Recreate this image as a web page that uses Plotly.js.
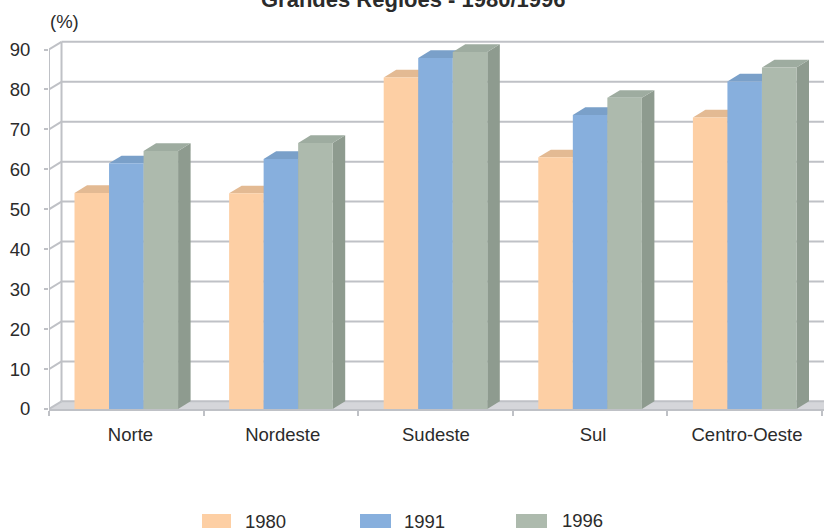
<!DOCTYPE html>
<html><head><meta charset="utf-8">
<script src="https://cdn.plot.ly/plotly-3.0.1.min.js"></script>
<style>html,body{margin:0;padding:0;background:#fff}#c{width:824px;height:528px}</style>
</head><body><div id="c"></div>
<script>
const categories = ["Norte","Nordeste","Sudeste","Sul","Centro-Oeste"];
const years = ["1980","1991","1996"];
const v1980 = [54.1,54.0,83.0,63.0,73.0];
const v1991 = [61.5,62.6,87.9,73.6,82.0];
const v1996 = [64.6,66.6,89.4,77.9,85.5];
const yTicks = [0,10,20,30,40,50,60,70,80,90];
const frontColors = ["#FDCFA4","#87AFDD","#ADBAAD"];
const topColors = ["#E3BA93","#7AA0C9","#9EACA0"];
const sideColors = ["#C9A584","#6C8CB0","#8E9B8F"];
const gridColor = "#BFC1C6", floorColor = "#D5D6DA", textColor = "#2B2B2B";
const font = "Liberation Sans, Arial, sans-serif";

const series = [v1980,v1991,v1996];
const xMin=-0.5, xMax=4.513, yMax=92.38;
const dx=0.081, dy=1.92, barW=0.2233;
const xs = categories.map((_,i)=>i);
const labelPos = [0.027,1.012,2.003,3.019,4.015];

const traces = series.map((vals,s)=>({
  type:"bar", x:xs, y:vals, name:years[s], showlegend:false,
  marker:{color:frontColors[s], line:{width:0}}, hoverinfo:"y"
}));
traces.push({type:"scatter",mode:"lines",x:[xMin,xMin],y:[0,90],cliponaxis:false,
  line:{color:gridColor,width:2},showlegend:false,hoverinfo:"skip"});

const shapes=[];
const poly=(pts,fill,layer)=>shapes.push({type:"path",xref:"x",yref:"y",layer,
  path:"M"+pts.map(p=>p[0]+","+p[1]).join("L")+"Z",fillcolor:fill,line:{width:0}});
const seg=(x0,y0,x1,y1)=>shapes.push({type:"line",xref:"x",yref:"y",layer:"below",x0,y0,x1,y1,
  line:{color:gridColor,width:2}});

poly([[xMin,0],[xMin+dx,dy],[xMax,dy],[xMax,0]],floorColor,"below");
yTicks.forEach(t=>{
  seg(xMin,t,xMin+dx,t+dy);
  seg(xMin+dx,t+dy,xMax,t+dy);
});
seg(xMin+dx,dy,xMin+dx,90+dy);

series.forEach((vals,s)=>vals.forEach((v,i)=>{
  const x0=i+(s-1.5)*barW, x1=x0+barW;
  poly([[x1,0],[x1+dx,dy],[x1+dx,v+dy],[x1,v]],sideColors[s],"between");
  poly([[x0,v],[x0+dx,v+dy],[x1+dx,v+dy],[x1,v]],topColors[s],"between");
}));

const swatches=[[202,231],[360,391],[516,547]];
swatches.forEach((p,s)=>shapes.push({type:"rect",xref:"paper",yref:"paper",
  x0:(p[0]-49)/775,x1:(p[1]-49)/775,y0:(409-528)/369,y1:(409-514)/369,
  fillcolor:frontColors[s],line:{width:0}}));

const legendTextX=[244,403,561], legendTextY=[521.5,521.5,520];
const annotations=years.map((y,s)=>({xref:"paper",yref:"paper",
  x:(legendTextX[s]-49)/775,y:(409-legendTextY[s])/369,xanchor:"left",yanchor:"middle",
  text:y,showarrow:false,font:{family:font,size:18.5,color:textColor},borderpad:0}));
annotations.push({xref:"paper",yref:"paper",x:0,y:(409-21)/369,xanchor:"left",yanchor:"middle",
  text:"(%)",showarrow:false,font:{family:font,size:18.5,color:textColor},borderpad:0});

const layout={
  width:824,height:528,paper_bgcolor:"#fff",plot_bgcolor:"rgba(0,0,0,0)",
  margin:{l:49,r:0,t:40,b:119,pad:0},showlegend:false,
  barmode:"group",bargap:0.33,bargroupgap:0,
  title:{text:"Grandes Regiões - 1980/1996",x:0.470,xanchor:"center",xref:"paper",
    y:0.987,yref:"container",yanchor:"bottom",font:{family:font,size:22,color:textColor,weight:"bold"}},
  xaxis:{type:"linear",range:[xMin,xMax],tickmode:"array",tickvals:labelPos,ticktext:categories,
    ticks:"",showgrid:false,zeroline:false,showline:true,linecolor:gridColor,linewidth:2,
    ticklabelstandoff:8,tickfont:{family:font,size:18.5,color:textColor},
    minor:{tickmode:"array",tickvals:[-0.5,0.5,1.5,2.5,3.5,4.5],ticks:"outside",ticklen:5,tickwidth:2,tickcolor:gridColor,showgrid:false}},
  yaxis:{range:[0,yMax],tickmode:"array",tickvals:yTicks,ticks:"outside",ticklen:4,tickwidth:2,tickcolor:gridColor,
    showgrid:false,zeroline:false,showline:false,ticklabelstandoff:10,
    tickfont:{family:font,size:18.5,color:textColor}},
  shapes,annotations
};
Plotly.newPlot("c",traces,layout,{displayModeBar:false,responsive:false});
</script></body></html>
